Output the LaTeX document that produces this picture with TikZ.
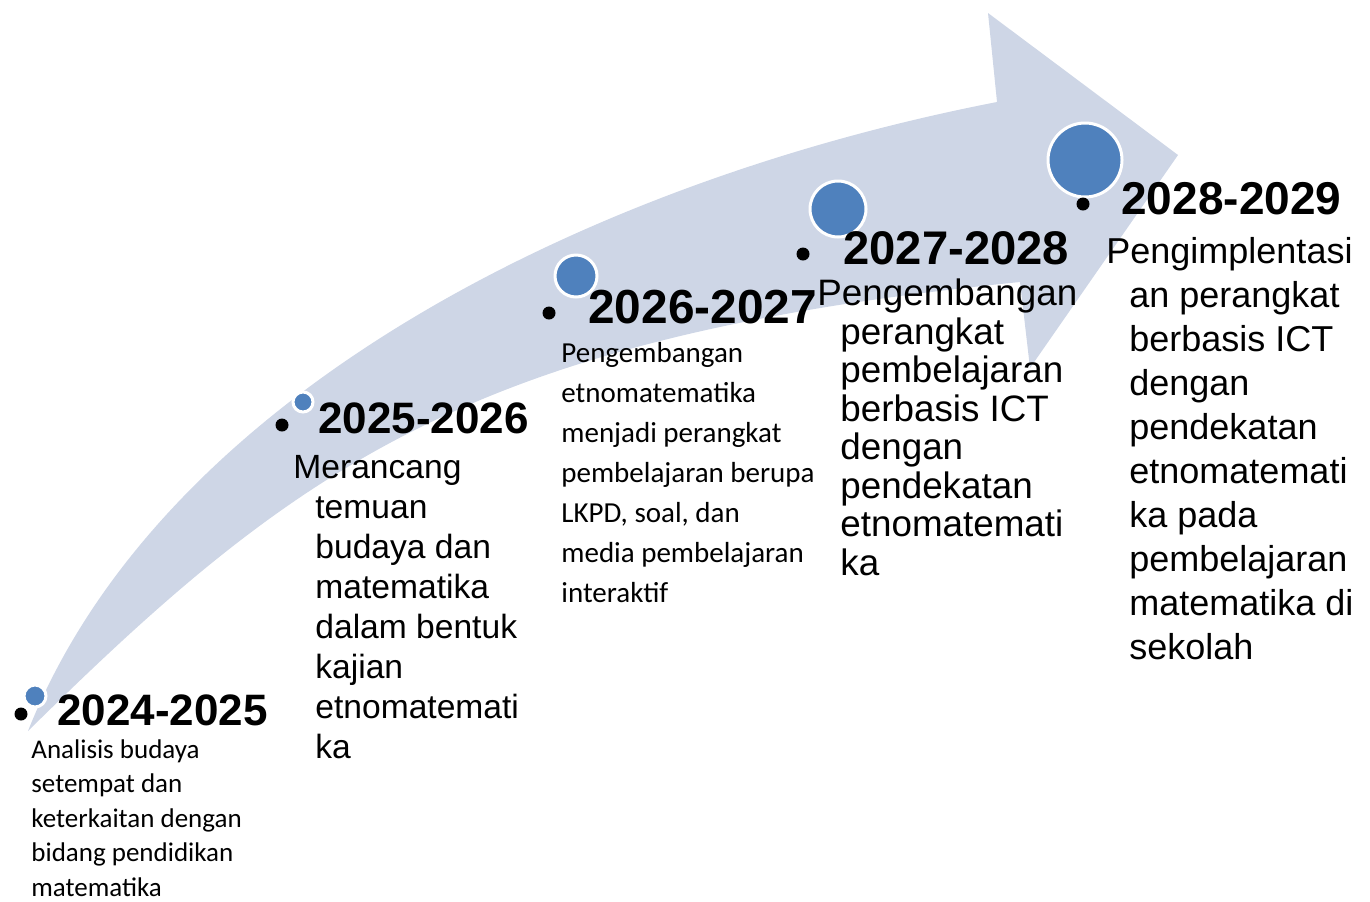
\documentclass[tikz,border=0pt]{standalone}
\usepackage{fontspec}
\setmainfont{Liberation Sans}
\newfontfamily\calfont{Carlito}

\definecolor{arrowbg}{RGB}{206,214,230}
\definecolor{dotblue}{RGB}{79,129,189}

\tikzset{
  yearlbl/.style={anchor=base west, inner sep=0pt, font=\fontsize{#1}{26}\selectfont\bfseries},
  yearlbl/.default=22,
  desc/.style={anchor=base west, inner sep=0pt, align=left},
  dotc/.style={circle, inner sep=0pt, fill=dotblue, draw=white, line width=1.5pt},
  bullet/.style={circle, inner sep=0pt, fill=black, minimum size=6.5pt}
}

\begin{document}
\begin{tikzpicture}[x=0.5pt, y=-0.5pt]
\useasboundingbox (0,0) rectangle (1370,901);

% curved arrow
\fill[arrowbg] (28,731) .. controls (161,396) and (585,182) .. (997,102)
  -- (988,13) -- (1178,155) -- (1030,368) -- (1020,282)
  .. controls (473,337) and (298,465) .. (28,731) -- cycle;

% circles and bullets
\foreach \n/\x/\y/\d in {1/35/696/11pt, 2/303/402/10pt, 3/576/276/21pt, 4/838/209/28pt, 5/1085/160/37pt}{
  \node[dotc, minimum size=\d] (c\n) at (\x,\y) {};
}
\foreach \n/\x/\y in {1/21/714, 2/282/425, 3/549/313, 4/803/254, 5/1083/204}{
  \node[bullet] (b\n) at (\x,\y) {};
}

% years
\node[yearlbl] (y1) at (57,725) {2024-2025};
\node[yearlbl] (y2) at (318,433) {2025-2026};
\node[yearlbl=23.9] (y3) at (588,323) {2026-2027};
\node[yearlbl=23.6] (y4) at (843,264) {2027-2028};
\node[yearlbl=23] (y5) at (1121,214) {2028-2029};

% descriptions (anchored at the last line)
\node[desc, font=\calfont\fontsize{13.5}{17.25}\selectfont] (d1) at (31,896)
  {Analisis budaya\\setempat dan\\keterkaitan dengan\\bidang pendidikan\\matematika};
\node[desc, font=\fontsize{16.8}{20}\selectfont] (d2) at (315,758)
  {\hspace*{-11pt}Merancang\\temuan\\budaya dan\\matematika\\dalam bentuk\\kajian\\etnomatemati\\ka};
\node[desc, font=\calfont\fontsize{14.5}{20}\selectfont] (d3) at (561,602)
  {Pengembangan\\etnomatematika\\menjadi perangkat\\pembelajaran berupa\\LKPD, soal, dan\\media pembelajaran\\interaktif};
\node[desc, font=\fontsize{18.4}{19.25}\selectfont] (d4) at (840,575)
  {\hspace*{-11.5pt}Pengembangan\\perangkat\\pembelajaran\\berbasis ICT\\dengan\\pendekatan\\etnomatemati\\ka};
\node[desc, font=\fontsize{18}{22}\selectfont] (d5) at (1129,659)
  {\hspace*{-11.5pt}Pengimplentasi\\an perangkat\\berbasis ICT\\dengan\\pendekatan\\etnomatemati\\ka pada\\pembelajaran\\matematika di\\sekolah};
\end{tikzpicture}
\end{document}
